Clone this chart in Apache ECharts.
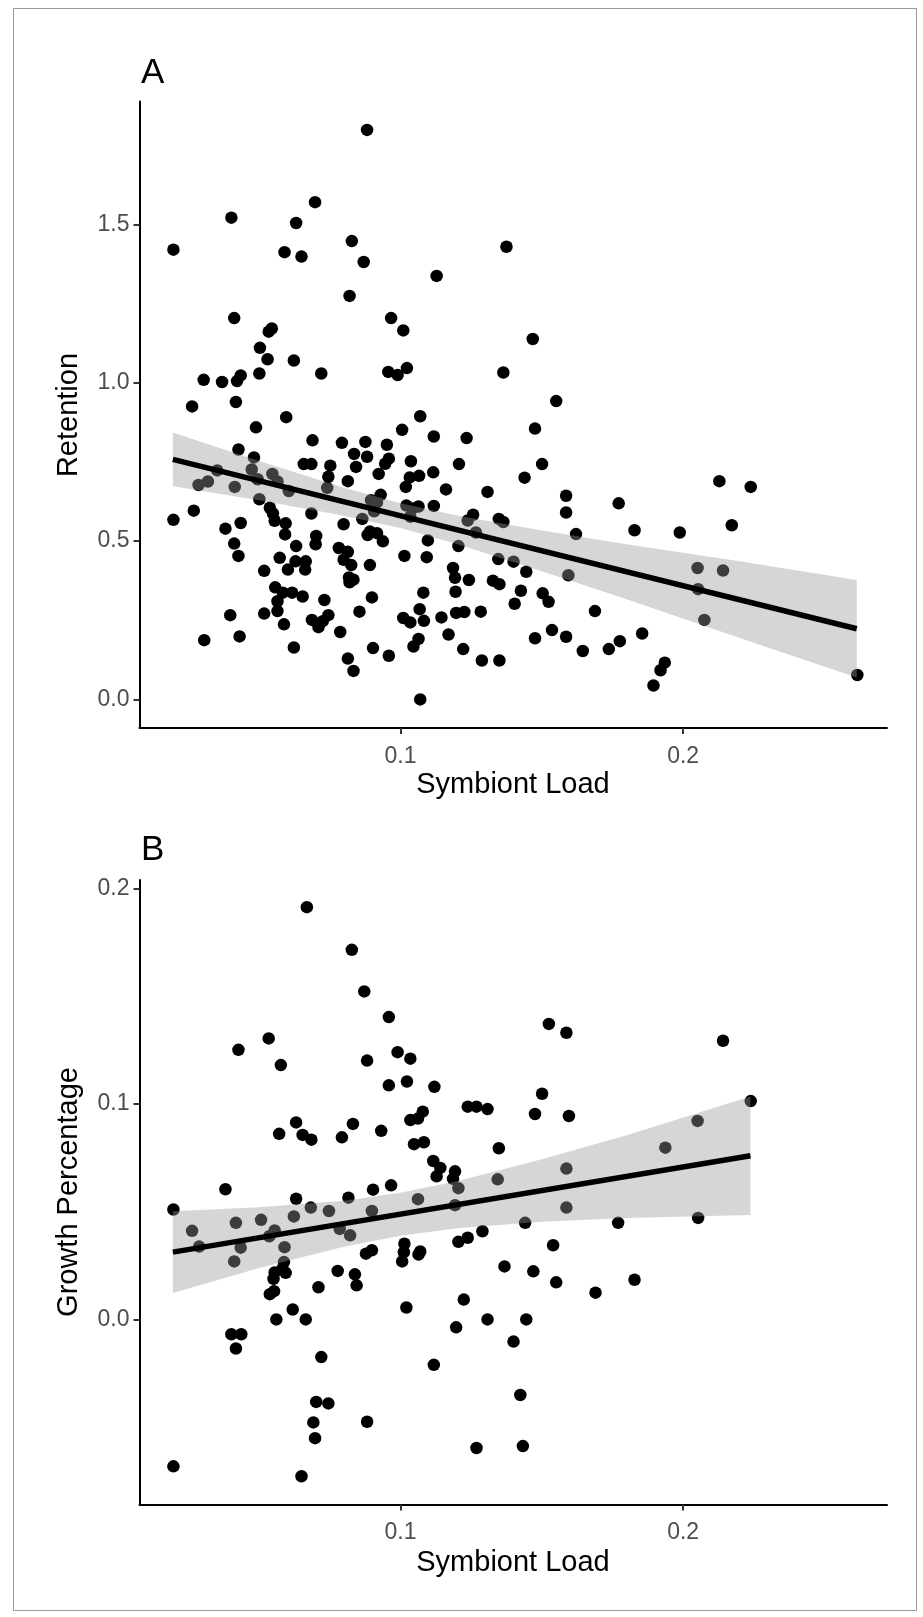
<!DOCTYPE html>
<html><head><meta charset="utf-8">
<script src="https://cdn.jsdelivr.net/npm/echarts@6/dist/echarts.min.js"></script>
<style>html,body{margin:0;padding:0;background:#fff}#c{width:923px;height:1617px}</style>
</head><body><div id="c"></div><script>
// ---------- Panel A: Symbiont Load vs Retention ----------
const loadA = [0.0882,0.0698,0.0402,0.0631,0.0197,0.0590,0.0650,0.0828,0.0870,0.1375,
0.1128,0.0820,0.0412,0.0967,0.1010,0.1468,0.0534,0.0545,0.0503,0.0530,
0.0623,0.0304,0.0369,0.0422,0.0435,0.0501,0.0720,0.0957,0.0990,0.1023,
0.1364,0.0263,0.0418,0.1551,0.0596,0.1070,0.0489,0.1006,0.1476,0.1118,
0.1234,0.0689,0.0793,0.0876,0.0952,0.0427,0.0836,0.0882,0.0482,0.0658,
0.0685,0.0752,0.0843,0.0946,0.0959,0.1037,0.1207,0.1501,0.0352,0.0474,
0.1116,0.0547,0.0745,0.0923,0.1066,0.1033,0.1439,0.0495,0.0565,0.0814,
0.2128,0.2239,0.0286,0.0319,0.0414,0.0605,0.0741,0.1019,0.1161,0.1308,
0.0930,0.1586,0.0501,0.0896,0.0917,0.1772,0.0538,0.1021,0.1043,0.1064,
0.1118,0.0269,0.0549,0.0685,0.0907,0.1035,0.1586,0.1257,0.0197,0.0435,
0.0555,0.0594,0.0799,0.0865,0.1238,0.1348,0.1364,0.2172,0.0381,0.0892,
0.0917,0.1621,0.1828,0.1988,0.0592,0.0702,0.0884,0.1267,0.1097,0.0412,
0.0700,0.0938,0.1205,0.0631,0.0782,0.0427,0.0573,0.1014,0.1093,0.0629,
0.0665,0.0799,0.0814,0.1346,0.1400,0.0826,0.0892,0.0518,0.0602,0.0663,
0.1186,0.1445,0.2051,0.2141,0.1594,0.0818,0.0834,0.0820,0.1193,0.1242,
0.1327,0.1350,0.0557,0.2053,0.0584,0.0617,0.0654,0.1081,0.1195,0.1426,
0.1503,0.0565,0.0731,0.0899,0.1524,0.1404,0.0398,0.0518,0.0565,0.0855,
0.1068,0.1197,0.1226,0.1284,0.1688,0.0687,0.0745,0.0725,0.0710,0.0588,
0.1010,0.1035,0.1083,0.1145,0.2075,0.0787,0.1170,0.1536,0.1476,0.1586,
0.1855,0.1776,0.0306,0.0431,0.1064,0.1046,0.1737,0.0623,0.0903,0.1222,
0.1645,0.0959,0.0814,0.1288,0.1350,0.1935,0.1920,0.0834,0.1895,0.2616,
0.1070];
const retention = [1.798,1.570,1.521,1.504,1.420,1.412,1.398,1.447,1.381,1.429,
1.337,1.274,1.204,1.204,1.165,1.138,1.161,1.171,1.110,1.074,
1.070,1.009,1.002,1.005,1.023,1.029,1.029,1.034,1.024,1.046,
1.032,0.925,0.939,0.942,0.891,0.894,0.859,0.851,0.855,0.830,
0.825,0.818,0.810,0.813,0.804,0.789,0.775,0.766,0.764,0.743,
0.743,0.738,0.734,0.744,0.760,0.752,0.743,0.743,0.723,0.726,
0.717,0.712,0.703,0.712,0.706,0.701,0.700,0.695,0.688,0.689,
0.689,0.671,0.677,0.688,0.671,0.658,0.668,0.671,0.663,0.655,
0.646,0.643,0.632,0.629,0.622,0.619,0.605,0.612,0.603,0.609,
0.611,0.596,0.587,0.587,0.594,0.577,0.590,0.583,0.567,0.557,
0.564,0.556,0.553,0.570,0.565,0.570,0.560,0.550,0.539,0.530,
0.525,0.522,0.534,0.527,0.521,0.516,0.519,0.527,0.502,0.492,
0.490,0.499,0.484,0.484,0.478,0.453,0.447,0.453,0.449,0.436,
0.436,0.441,0.466,0.443,0.435,0.424,0.424,0.406,0.410,0.410,
0.415,0.403,0.415,0.407,0.392,0.385,0.378,0.370,0.384,0.377,
0.375,0.364,0.354,0.348,0.337,0.337,0.325,0.337,0.340,0.343,
0.335,0.310,0.314,0.322,0.308,0.302,0.266,0.271,0.279,0.277,
0.285,0.273,0.276,0.277,0.279,0.251,0.266,0.247,0.228,0.237,
0.257,0.243,0.248,0.259,0.251,0.213,0.205,0.219,0.193,0.198,
0.208,0.184,0.187,0.199,0.191,0.167,0.159,0.164,0.162,0.159,
0.153,0.138,0.129,0.123,0.123,0.116,0.092,0.090,0.044,0.077,
0.000];
const fitAx = [0.0195, 0.2614];
const fitAy = [0.758, 0.223];
const bandAx  = [0.0195, 0.05,  0.08,  0.10,  0.12,  0.15,  0.18,  0.22,  0.2614];
const bandAlo = [0.673,  0.629, 0.580, 0.541, 0.491, 0.405, 0.316, 0.194, 0.069];
const bandAhi = [0.843,  0.753, 0.668, 0.619, 0.581, 0.533, 0.490, 0.436, 0.377];
const yTicksA = [0, 0.5, 1.0, 1.5];

// ---------- Panel B: Symbiont Load vs Growth Percentage ----------
const loadB = [0.0669,0.0828,0.0872,0.0959,0.1525,0.1587,0.0534,0.2141,0.0427,0.0990,
0.1035,0.0882,0.0577,0.0959,0.1120,0.1023,0.1501,0.1238,0.1269,0.1308,
0.2239,0.1476,0.1596,0.1079,0.1062,0.1035,0.2051,0.0631,0.0832,0.0932,
0.0571,0.0654,0.0685,0.0793,0.1048,0.1083,0.1348,0.1937,0.1116,0.1141,
0.1128,0.1193,0.1186,0.1587,0.1344,0.0967,0.0381,0.0903,0.1205,0.0631,
0.0816,0.1062,0.0197,0.0683,0.0747,0.0899,0.1193,0.1587,0.0623,0.2053,
0.0507,0.0418,0.1441,0.1770,0.0263,0.0555,0.0536,0.0785,0.0822,0.1290,
0.1238,0.1205,0.0288,0.0435,0.0590,0.1014,0.1012,0.1006,0.0899,0.0878,
0.1070,0.1064,0.1540,0.0412,0.0588,0.0594,0.0582,0.1368,0.0778,0.0839,
0.0845,0.1470,0.0555,0.0551,0.1551,0.1828,0.0710,0.1690,0.0538,0.0553,
0.1224,0.1021,0.0619,0.0561,0.0665,0.1308,0.1445,0.1197,0.0402,0.0437,
0.0418,0.1400,0.0720,0.1118,0.1424,0.0702,0.0745,0.0692,0.0882,0.0698,
0.1269,0.1433,0.0197,0.0650];
const growth = [0.1913,0.1715,0.1522,0.1403,0.1371,0.1330,0.1304,0.1293,0.1251,0.1240,
0.1210,0.1201,0.1180,0.1086,0.1079,0.1104,0.1047,0.0987,0.0987,0.0976,
0.1013,0.0953,0.0944,0.0964,0.0932,0.0925,0.0921,0.0914,0.0907,0.0875,
0.0861,0.0856,0.0834,0.0845,0.0813,0.0822,0.0794,0.0797,0.0735,0.0703,
0.0664,0.0687,0.0652,0.0700,0.0650,0.0622,0.0604,0.0602,0.0609,0.0560,
0.0565,0.0558,0.0510,0.0519,0.0503,0.0503,0.0530,0.0519,0.0478,0.0471,
0.0462,0.0448,0.0448,0.0448,0.0411,0.0413,0.0386,0.0420,0.0390,0.0409,
0.0379,0.0360,0.0338,0.0333,0.0335,0.0351,0.0312,0.0269,0.0321,0.0305,
0.0315,0.0301,0.0344,0.0269,0.0266,0.0216,0.0234,0.0246,0.0225,0.0209,
0.0158,0.0223,0.0218,0.0188,0.0172,0.0184,0.0149,0.0124,0.0117,0.0131,
0.0092,0.0055,0.0046,0.0000,0.0000,0.0000,0.0000,-0.0037,-0.0069,-0.0069,
-0.0135,-0.0103,-0.0175,-0.0211,-0.0351,-0.0383,-0.0390,-0.0478,-0.0475,-0.0551,
-0.0597,-0.0588,-0.0682,-0.0728];
const fitBx = [0.0195, 0.2238];
const fitBy = [0.0312, 0.0759];
const bandBx  = [0.0195, 0.05,   0.08,   0.10,   0.12,   0.15,   0.18,   0.2238];
const bandBlo = [0.0122, 0.0238, 0.0337, 0.0388, 0.0423, 0.0453, 0.0471, 0.0484];
const bandBhi = [0.0502, 0.0520, 0.0551, 0.0588, 0.0641, 0.0743, 0.0855, 0.1034];
const yTicksB = [0, 0.1, 0.2];

const xTicks = [0.1, 0.2];
const xTitle = 'Symbiont Load';
const yTitleA = 'Retention';
const yTitleB = 'Growth Percentage';

// ---------- chart ----------
const FONT = '"Liberation Sans", Arial, Helvetica, sans-serif';
const tickColor = '#4d4d4d';

function xAxisFor(gi) {
  return {
    type: 'value', gridIndex: gi, min: 0.0077, max: 0.2721,
    axisLine: { show: true, onZero: false, lineStyle: { color: '#000', width: 2 } },
    axisTick: { show: true, customValues: xTicks, length: 6, lineStyle: { color: '#333', width: 2 } },
    axisLabel: { customValues: xTicks, formatter: v => v.toFixed(1), fontSize: 23, color: tickColor, fontFamily: FONT, margin: 17 },
    splitLine: { show: false }
  };
}
function yAxisFor(gi, min, max, ticks) {
  return {
    type: 'value', gridIndex: gi, min: min, max: max,
    axisLine: { show: true, onZero: false, lineStyle: { color: '#000', width: 2 } },
    axisTick: { show: true, customValues: ticks, length: 6, lineStyle: { color: '#333', width: 2 } },
    axisLabel: { customValues: ticks, formatter: v => v.toFixed(1), fontSize: 23, color: tickColor, fontFamily: FONT, margin: 10 },
    splitLine: { show: false }
  };
}
function bandSeries(gi, bx, lo, hi) {
  return {
    type: 'custom', xAxisIndex: gi, yAxisIndex: gi, z: 3, silent: true,
    data: [[bx[0], lo[0]]],
    renderItem: function (params, api) {
      const pts = [];
      for (let i = 0; i < bx.length; i++) pts.push(api.coord([bx[i], hi[i]]));
      for (let i = bx.length - 1; i >= 0; i--) pts.push(api.coord([bx[i], lo[i]]));
      return { type: 'polygon', shape: { points: pts }, style: { fill: 'rgba(153,153,153,0.4)' } };
    }
  };
}
function pairs(xs, ys) { return xs.map((x, i) => [x, ys[i]]); }

const dotStyle = { color: '#000', opacity: 1 };
const chart = echarts.init(document.getElementById('c'), null, { renderer: 'canvas' });
chart.setOption({
  animation: false,
  backgroundColor: '#fff',
  grid: [
    { left: 139.5, top: 101.4, width: 747.5, height: 626.5 },
    { left: 139.5, top: 880, width: 747.5, height: 624.5 }
  ],
  xAxis: [xAxisFor(0), xAxisFor(1)],
  yAxis: [yAxisFor(0, -0.0899, 1.888, yTicksA), yAxisFor(1, -0.0859, 0.2039, yTicksB)],
  series: [
    { type: 'scatter', xAxisIndex: 0, yAxisIndex: 0, z: 2, symbolSize: 12.5, itemStyle: dotStyle, data: pairs(loadA, retention) },
    bandSeries(0, bandAx, bandAlo, bandAhi),
    { type: 'line', xAxisIndex: 0, yAxisIndex: 0, z: 4, showSymbol: false, lineStyle: { color: '#000', width: 5.5 }, data: pairs(fitAx, fitAy) },
    { type: 'scatter', xAxisIndex: 1, yAxisIndex: 1, z: 2, symbolSize: 12.5, itemStyle: dotStyle, data: pairs(loadB, growth) },
    bandSeries(1, bandBx, bandBlo, bandBhi),
    { type: 'line', xAxisIndex: 1, yAxisIndex: 1, z: 4, showSymbol: false, lineStyle: { color: '#000', width: 5.5 }, data: pairs(fitBx, fitBy) }
  ],
  graphic: [
    { type: 'rect', z: 0, shape: { x: 13.5, y: 8.5, width: 903, height: 1602 }, style: { fill: 'none', stroke: '#999', lineWidth: 1 } },
    { type: 'text', x: 141, y: 73, style: { text: 'A', font: '35px ' + FONT, fill: '#000', textVerticalAlign: 'middle' } },
    { type: 'text', x: 141, y: 850, style: { text: 'B', font: '35px ' + FONT, fill: '#000', textVerticalAlign: 'middle' } },
    { type: 'text', x: 513, y: 785, style: { text: xTitle, font: '29px ' + FONT, fill: '#000', textAlign: 'center', textVerticalAlign: 'middle' } },
    { type: 'text', x: 513, y: 1563, style: { text: xTitle, font: '29px ' + FONT, fill: '#000', textAlign: 'center', textVerticalAlign: 'middle' } },
    { type: 'text', x: 69, y: 415, rotation: Math.PI / 2, style: { text: yTitleA, font: '29px ' + FONT, fill: '#000', textAlign: 'center', textVerticalAlign: 'middle' } },
    { type: 'text', x: 69, y: 1192, rotation: Math.PI / 2, style: { text: yTitleB, font: '29px ' + FONT, fill: '#000', textAlign: 'center', textVerticalAlign: 'middle' } }
  ]
});
</script></body></html>
